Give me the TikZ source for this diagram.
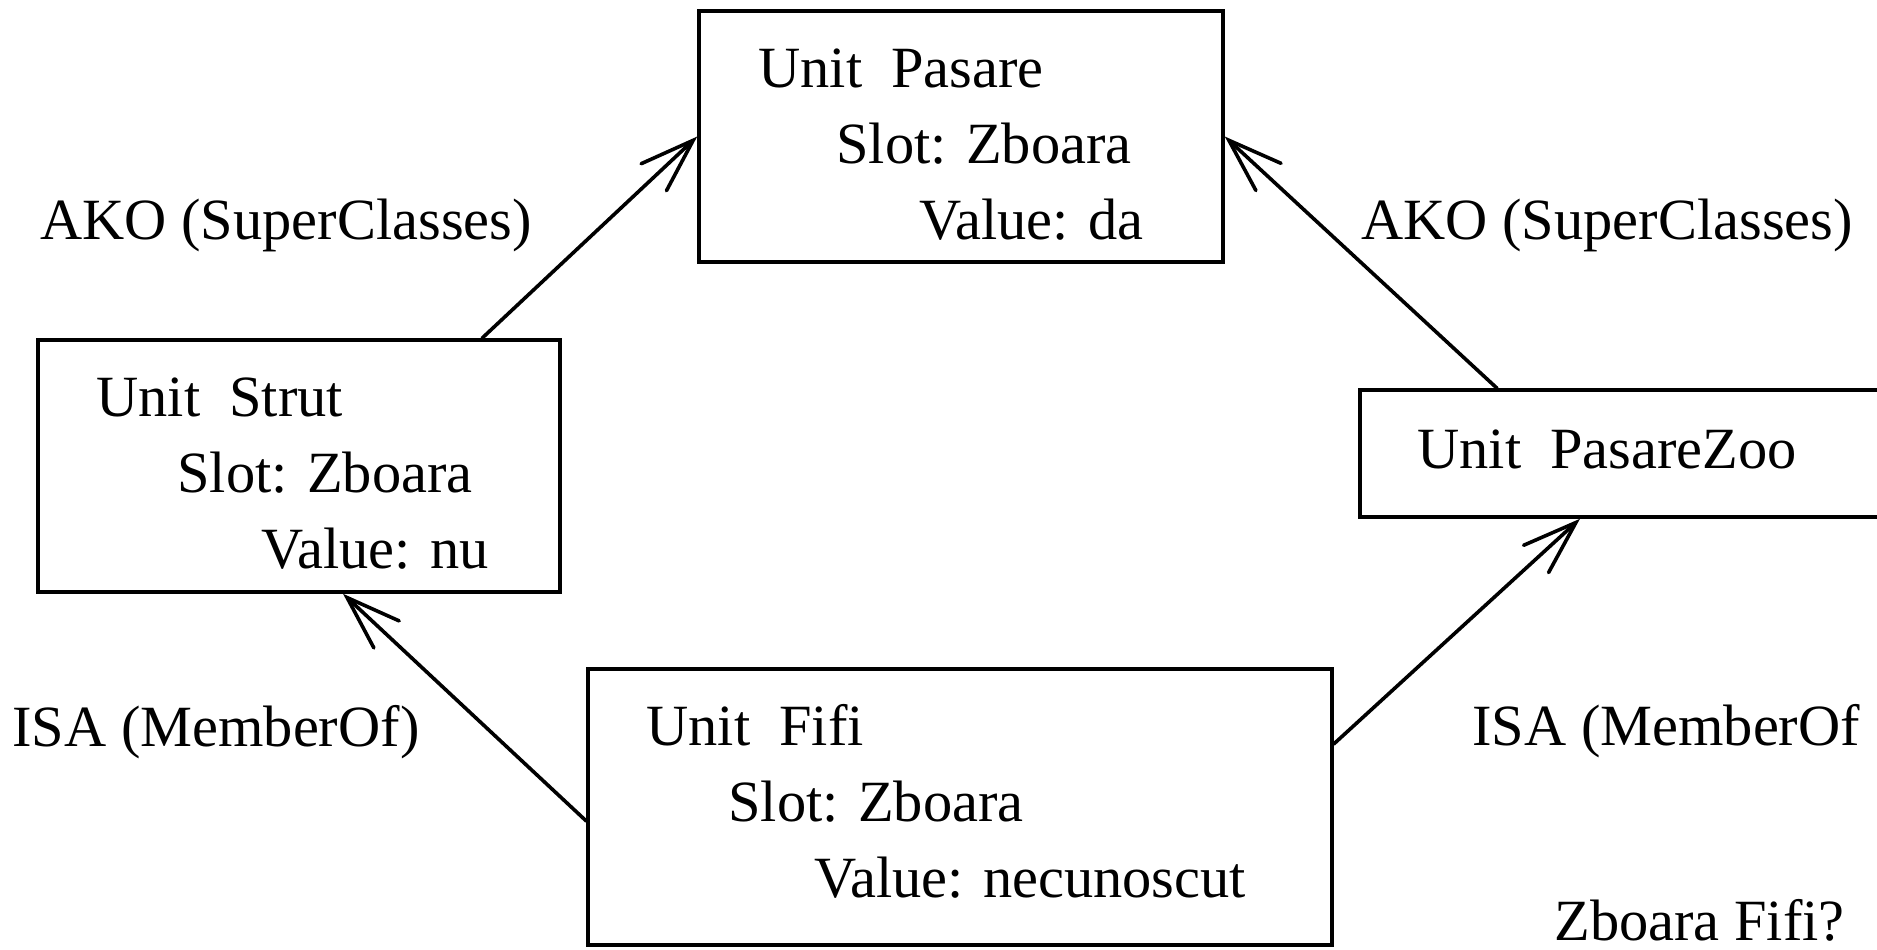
\documentclass[tikz,border=0pt]{standalone}
\usepackage{fontspec}
\setmainfont{Liberation Serif}
\usetikzlibrary{arrows.meta}
\begin{document}
\begin{tikzpicture}[x=0.5pt,y=-0.5pt,
  unitbox/.style={draw,line width=1.75pt,rectangle,inner sep=0pt},
  txt/.style={anchor=base west,inner sep=0pt,font=\fontsize{29.2}{35}\selectfont},
  link/.style={line width=1.8pt,line cap=round,
    -{Straight Barb[length=27pt,width=18.5pt,line cap=round]}}]
\useasboundingbox (0,0) rectangle (1877,949);
\clip (0,0) rectangle (1877,949);

% frames of the four units
\node[unitbox,minimum width=262pt,minimum height=125.5pt] (pasare) at (961,136.5) {};
\node[unitbox,minimum width=261pt,minimum height=126pt] (strut) at (299,466) {};
\node[unitbox,minimum width=290pt,minimum height=63.5pt] (zoo) at (1650,453.5) {};
\node[unitbox,minimum width=372pt,minimum height=138pt] (fifi) at (960,807) {};

% unit contents
\node[txt] (p1) at (758,87) {Unit~~Pasare};
\node[txt] (p2) at (836,163) {Slot: Zboara};
\node[txt] (p3) at (919,239) {Value: da};

\node[txt] (s1) at (96,416) {Unit~~Strut};
\node[txt] (s2) at (177,492) {Slot: Zboara};
\node[txt] (s3) at (261,568) {Value: nu};

\node[txt] (z1) at (1417,468) {Unit~~PasareZoo};

\node[txt] (f1) at (646,745) {Unit~~Fifi};
\node[txt] (f2) at (728,821) {Slot: Zboara};
\node[txt] (f3) at (814,897) {Value: necunoscut};

% relation labels
\node[txt] (akoL) at (40,239) {AKO (SuperClasses)};
\node[txt] (akoR) at (1361,239) {AKO (SuperClasses)};
\node[txt] (isaL) at (12,746) {ISA (MemberOf)};
\node[txt] (isaR) at (1472,745) {ISA (MemberOf};
\node[txt] (q) at (1554,940) {Zboara Fifi?};

% inheritance links
\draw[link] ([xshift=91.5pt]strut.north) -- (pasare.west);
\draw[link] ([xshift=-76.5pt]zoo.north) -- (pasare.east);
\draw[link] ([yshift=-7pt]fifi.west) -- ([xshift=22pt]strut.south);
\draw[link] ([yshift=31.5pt]fifi.east) -- ([xshift=-35pt]zoo.south);
\end{tikzpicture}
\end{document}
